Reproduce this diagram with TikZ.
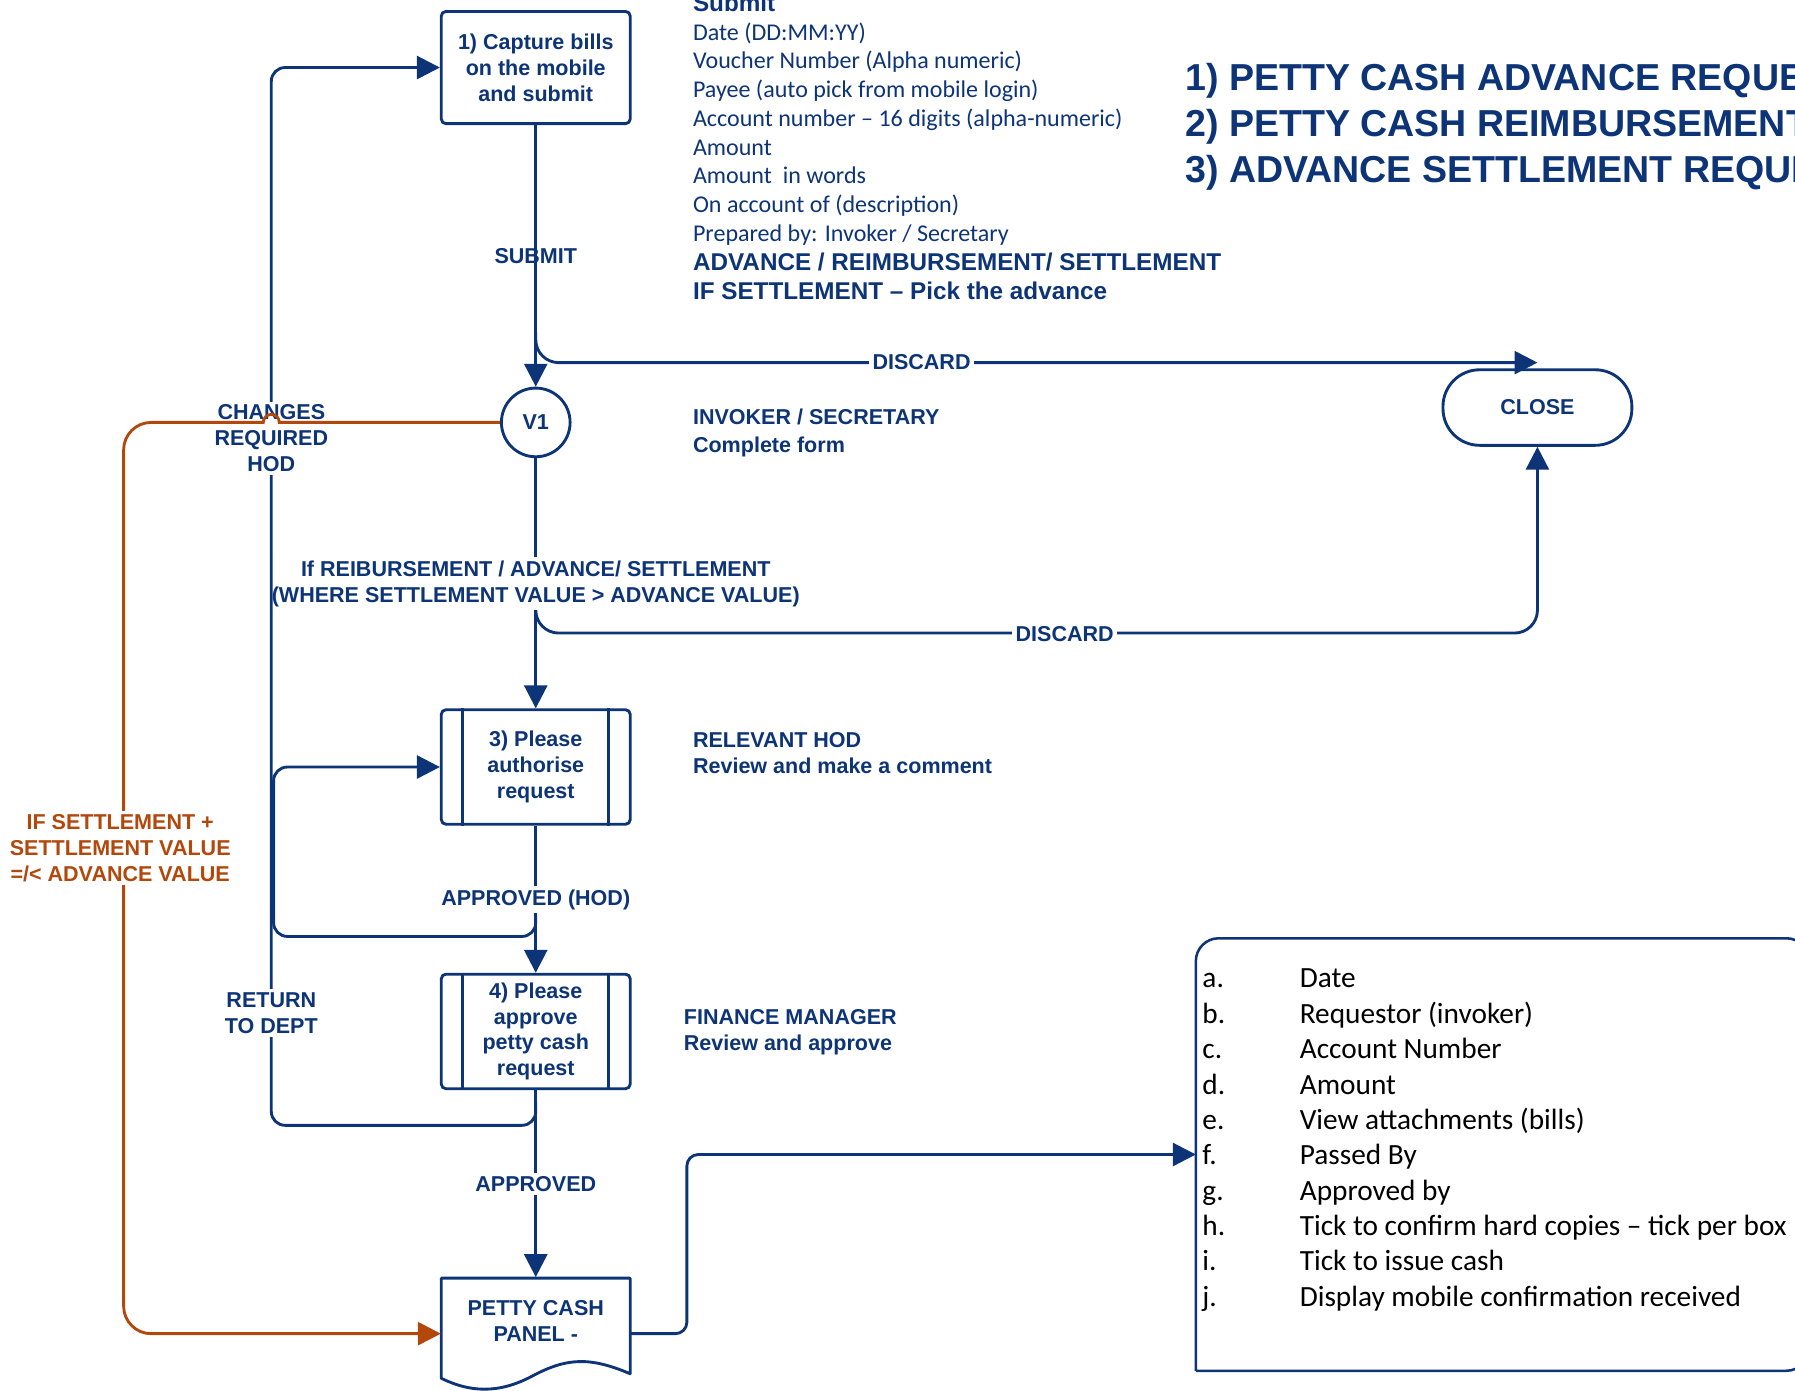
\documentclass[tikz,border=0pt]{standalone}
\usepackage{fontspec}
\setmainfont{Liberation Sans}
\newfontfamily\calfont{Carlito}
\usetikzlibrary{arrows.meta,calc}
\definecolor{nav}{RGB}{12,52,118}
\definecolor{org}{RGB}{178,72,12}
\begin{document}
\begin{tikzpicture}[x=0.5pt,y=-0.5pt,
  bl/.style={draw=nav, line width=1.25pt},
  arr/.style={bl, -{Triangle[length=10pt,width=10pt]}},
  oarr/.style={draw=org, line width=1.25pt, -{Triangle[length=10pt,width=10pt]}},
  bt/.style={font=\fontsize{9.4}{11.3}\selectfont\bfseries, text=nav, align=center},
  lbl/.style={bt, fill=white, inner sep=1.5pt},
  bx/.style={bt, draw=nav, line width=1.25pt, minimum width=82.5pt, minimum height=49pt, rounded corners=2pt, inner sep=0pt},
  ann/.style={font=\fontsize{9.4}{11.3}\selectfont\bfseries, text=nav, anchor=base west, inner sep=0pt},
  cb/.style={font=\calfont\fontsize{10.5}{12.5}\selectfont, text=nav, anchor=base west, inner sep=0pt},
  cbb/.style={font=\fontsize{10.6}{12.5}\selectfont\bfseries, text=nav, anchor=base west, inner sep=0pt},
  ttl/.style={font=\fontsize{16.4}{20}\selectfont\bfseries, text=nav, anchor=base west, inner sep=0pt},
  li/.style={font=\calfont\fontsize{12.8}{15}\selectfont, text=black, anchor=base west, inner sep=0pt}
]
\useasboundingbox (0,0) rectangle (1568,1215);
\clip (0,0) rectangle (1568,1215);

% ---------- shapes ----------
\node[bx] (b1) at (468,59) {1) Capture bills\\on the mobile\\and submit};
\node[circle, draw=nav, line width=1.25pt, minimum size=30pt, inner sep=0pt, bt] (v1) at (468,369) {V1};
\node[bt, draw=nav, line width=1.25pt, rounded corners=16pt, minimum width=82.5pt, minimum height=33pt] (close) at (1343,356) {CLOSE};
\node[bx, minimum height=50pt] (b3) at (468,670) {3) Please\\authorise\\request};
\draw[bl] ([xshift=10pt]b3.north west) -- ([xshift=10pt]b3.south west);
\draw[bl] ([xshift=-10pt]b3.north east) -- ([xshift=-10pt]b3.south east);
\node[bx, minimum height=50pt] (b4) at (468,901) {4) Please\\approve\\petty cash\\request};
\draw[bl] ([xshift=10pt]b4.north west) -- ([xshift=10pt]b4.south west);
\draw[bl] ([xshift=-10pt]b4.north east) -- ([xshift=-10pt]b4.south east);
% petty cash panel (document shape)
\node[minimum width=82.5pt, minimum height=49pt, inner sep=0pt] (pcp) at (468,1165) {};
\draw[bl, line join=round] (385.5,1204) -- (385.5,1116.5) -- (550.5,1116.5) -- (550.5,1200)
  .. controls (515,1185) and (495,1186) .. (465,1202)
  .. controls (435,1218) and (410,1216) .. (385.5,1204) -- cycle;
\node[bt] at (468,1154) {PETTY CASH\\PANEL -};
% list box
\node[minimum width=267.5pt, minimum height=188.5pt, inner sep=0pt] (list) at (1312.5,1008.5) {};
\draw[bl, line width=1.1pt] (list.south west) [rounded corners=10pt] -- (list.north west) -- (list.north east) -- (list.south east) -- (list.south west);

% ---------- main connectors ----------
\coordinate (d1) at (468,290);
\coordinate (d2) at (468,535);
\coordinate (k2) at (1343,553);
\coordinate (l1) at (468,800);
\coordinate (l2) at (468,962);
\draw[arr] (b1) -- (v1);
\draw[arr] (v1) -- (b3);
\draw[arr] (b3) -- (b4);
\draw[arr] (b4) -- (pcp);
\draw[arr, rounded corners=10pt] (d1) |- ([yshift=2.5pt]close.north);
\draw[arr, rounded corners=10pt] (d2) |- (k2) -- (close.south);
\draw[arr, rounded corners=5pt] (pcp.east) -- (600,1165) |- (list.west);

% labels with white background
\node[lbl] at (468,510) {If REIBURSEMENT / ADVANCE/ SETTLEMENT\\(WHERE SETTLEMENT VALUE > ADVANCE VALUE)};
\node[lbl] at (468,786) {APPROVED (HOD)};
\node[lbl] at (468,1034) {APPROVED};
\node[lbl] at (805,316) {DISCARD};
\node[lbl] at (930,554) {DISCARD};

% loops
\draw[arr, rounded corners=6pt] (l2) |- (237,983) |- (b1.west);
\draw[arr, rounded corners=6pt] (l1) |- (239,818) |- (b3.west);
\node[lbl] at (237,383) {CHANGES\\REQUIRED\\HOD};
\node[lbl] at (237,885) {RETURN\\TO DEPT};

% orange connector
\draw[oarr] (v1.west) -- (244,369) arc[start angle=0,end angle=180,radius=3.5pt]
  [rounded corners=12pt] -| (108,1165) -- (pcp.west);
\node[lbl, text=org] at (105,741) {IF SETTLEMENT +\\SETTLEMENT VALUE\\=/< ADVANCE VALUE};

\node[bt] at (468,224) {SUBMIT};

% ---------- annotation texts ----------
\node[cbb] at (605,10) {Submit};
\foreach \t [count=\i from 0] in {{Date (DD:MM:YY)},{Voucher Number (Alpha numeric)},{Payee (auto pick from mobile login)},{Account number – 16 digits (alpha-numeric)},{Amount},{Amount~ in words},{On account of (description)},{Prepared by: Invoker / Secretary}}
  \node[cb] at (605,{35+25.1*\i}) {\t};
\node[cbb] at (605,236.5) {ADVANCE / REIMBURSEMENT/ SETTLEMENT};
\node[cbb] at (605,261.5) {IF SETTLEMENT – Pick the advance};

\node[ttl] at (1035,79) {1) PETTY CASH ADVANCE REQUEST};
\node[ttl] at (1035,119) {2) PETTY CASH REIMBURSEMENT};
\node[ttl] at (1035,159) {3) ADVANCE SETTLEMENT REQUEST};

\node[ann] at (605,371) {INVOKER / SECRETARY};
\node[ann] at (605,395) {Complete form};
\node[ann] at (605,653) {RELEVANT HOD};
\node[ann] at (605,676) {Review and make a comment};
\node[ann] at (597,895) {FINANCE MANAGER};
\node[ann] at (597,918) {Review and approve};

\foreach \l/\t [count=\i from 0] in {a./Date, b./Requestor (invoker), c./Account Number, d./Amount, e./View attachments (bills), f./Passed By, g./Approved by, h./Tick to confirm hard copies – tick per box, i./Tick to issue cash, j./Display mobile confirmation received}
{
  \node[li] at (1050,{863+30.9*\i}) {\l};
  \node[li] at (1135,{863+30.9*\i}) {\t};
}
\end{tikzpicture}
\end{document}
